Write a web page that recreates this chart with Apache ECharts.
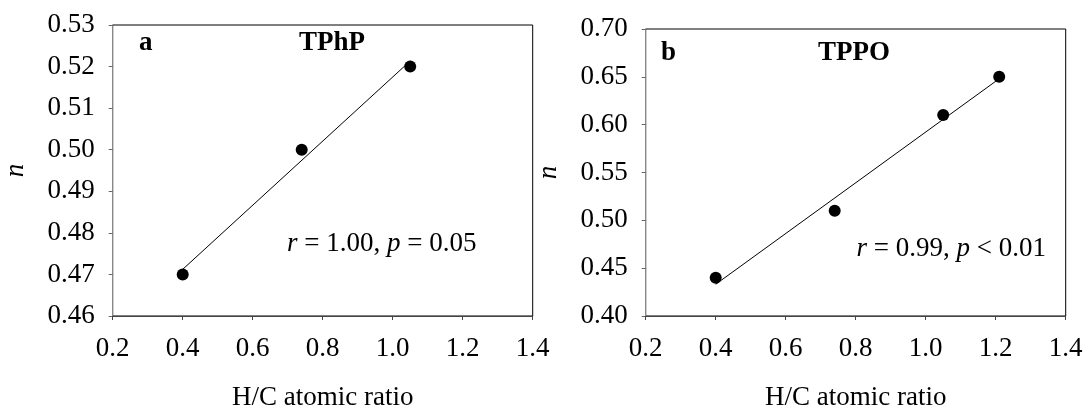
<!DOCTYPE html>
<html>
<head>
<meta charset="utf-8">
<script src="https://cdn.jsdelivr.net/npm/echarts@6/dist/echarts.min.js"></script>
<style>html,body{margin:0;padding:0;background:#fff}#c{width:1086px;height:416px}</style>
</head>
<body>
<div id="c"></div>
<script>
// Panel a: TPhP
const hcA = [0.40, 0.74, 1.05];
const nA = [0.47, 0.50, 0.52];
// Panel b: TPPO
const hcB = [0.40, 0.74, 1.05, 1.21];
const nB = [0.44, 0.51, 0.61, 0.65];
const xTicks = [0.2, 0.4, 0.6, 0.8, 1.0, 1.2, 1.4];
const yTicksA = [0.46, 0.47, 0.48, 0.49, 0.50, 0.51, 0.52, 0.53];
const yTicksB = [0.40, 0.45, 0.50, 0.55, 0.60, 0.65, 0.70];
const titles = ['TPhP', 'TPPO'];
const panelLetters = ['a', 'b'];
const statsA = {r: '1.00', p: '= 0.05'};
const statsB = {r: '0.99', p: '< 0.01'};

function fit(xs, ys) {
  const n = xs.length;
  const mx = xs.reduce((a, b) => a + b, 0) / n;
  const my = ys.reduce((a, b) => a + b, 0) / n;
  let sxy = 0, sxx = 0;
  for (let i = 0; i < n; i++) { sxy += (xs[i] - mx) * (ys[i] - my); sxx += (xs[i] - mx) ** 2; }
  const b = sxy / sxx, a = my - b * mx;
  const x0 = Math.min(...xs), x1 = Math.max(...xs);
  return [[x0, a + b * x0], [x1, a + b * x1]];
}

const FONT = 'Liberation Serif';
const FS = 27;

function xAxisCfg(gi) {
  return {
    type: 'value', gridIndex: gi,
    min: xTicks[0], max: xTicks[xTicks.length - 1], interval: 0.2,
    name: 'H/C atomic ratio', nameLocation: 'middle', nameGap: 68,
    nameTextStyle: {fontFamily: FONT, fontSize: FS, color: '#000'},
    axisLine: {show: true, lineStyle: {color: '#444', width: 1}},
    axisTick: {show: true, inside: false, length: 4, lineStyle: {color: '#444'}},
    axisLabel: {fontFamily: FONT, fontSize: FS, color: '#000', margin: 19, formatter: v => v.toFixed(1)},
    splitLine: {show: false}
  };
}
function yAxisCfg(gi, ticks, itv) {
  return {
    type: 'value', gridIndex: gi,
    min: ticks[0], max: ticks[ticks.length - 1], interval: itv,
    name: 'n', nameLocation: 'middle', nameGap: 83, nameRotate: 90,
    nameTextStyle: {fontFamily: FONT, fontSize: FS, color: '#000', fontStyle: 'italic'},
    axisLine: {show: true, lineStyle: {color: '#888', width: 1}},
    axisTick: {show: true, inside: false, length: 4, lineStyle: {color: '#666'}},
    axisLabel: {fontFamily: FONT, fontSize: FS, color: '#000', margin: 18, formatter: v => v.toFixed(2)},
    splitLine: {show: false}
  };
}

function txt(x, y, text, opts) {
  return {
    type: 'text', x: x, y: y, silent: true,
    style: Object.assign({
      text: text, fontFamily: FONT, fontSize: FS, fill: '#000',
      textAlign: 'left', textVerticalAlign: 'middle',
      rich: {i: {fontFamily: FONT, fontSize: FS, fontStyle: 'italic', fill: '#000'}}
    }, opts || {})
  };
}

const chart = echarts.init(document.getElementById('c'), null, {renderer: 'canvas'});
chart.setOption({
  animation: false,
  backgroundColor: '#fff',
  grid: [
    {left: 112.7, top: 25, width: 420, height: 294, show: true, borderColor: '#000', borderWidth: 1, backgroundColor: 'transparent'},
    {left: 645.7, top: 29, width: 420, height: 294, show: true, borderColor: '#000', borderWidth: 1, backgroundColor: 'transparent'}
  ],
  xAxis: [xAxisCfg(0), xAxisCfg(1)],
  yAxis: [yAxisCfg(0, yTicksA, 0.01), yAxisCfg(1, yTicksB, 0.05)],
  series: [
    {type: 'line', xAxisIndex: 0, yAxisIndex: 0, data: fit(hcA, nA), symbol: 'none', lineStyle: {color: '#000', width: 1}, z: 2},
    {type: 'scatter', xAxisIndex: 0, yAxisIndex: 0, data: hcA.map((x, i) => [x, nA[i]]), symbolSize: 12, itemStyle: {color: '#000', opacity: 1}, z: 3},
    {type: 'line', xAxisIndex: 1, yAxisIndex: 1, data: fit(hcB, nB), symbol: 'none', lineStyle: {color: '#000', width: 1}, z: 2},
    {type: 'scatter', xAxisIndex: 1, yAxisIndex: 1, data: hcB.map((x, i) => [x, nB[i]]), symbolSize: 12, itemStyle: {color: '#000', opacity: 1}, z: 3}
  ],
  graphic: [
    txt(139, 43, panelLetters[0], {fontWeight: 'bold'}),
    txt(332, 43, titles[0], {fontWeight: 'bold', textAlign: 'center'}),
    txt(661, 53, panelLetters[1], {fontWeight: 'bold'}),
    txt(854, 53, titles[1], {fontWeight: 'bold', textAlign: 'center'}),
    txt(287, 244, '{i|r} = ' + statsA.r + ', {i|p} ' + statsA.p),
    txt(1046, 249, '{i|r} = ' + statsB.r + ', {i|p} ' + statsB.p, {textAlign: 'right'})
  ]
});
</script>
</body>
</html>
